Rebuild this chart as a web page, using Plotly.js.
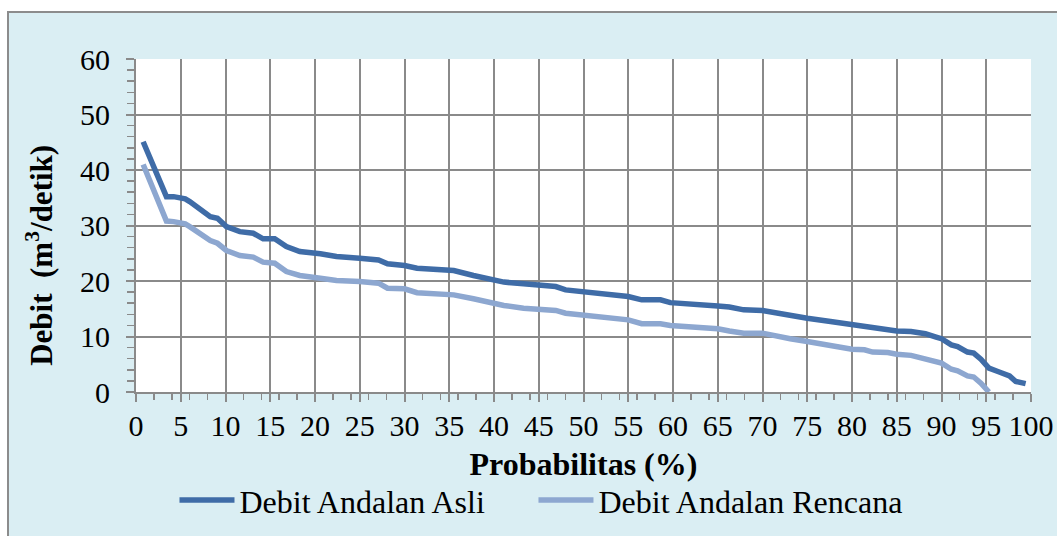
<!DOCTYPE html>
<html>
<head>
<meta charset="utf-8">
<script src="https://cdn.plot.ly/plotly-3.0.1.min.js"></script>
<style>
  html, body { margin: 0; padding: 0; background: #ffffff; }
  #frame {
    position: absolute; left: 7px; top: 11px;
    width: 1050px; height: 525px;
    border-left: 2px solid #8c8c8c; border-top: 2px solid #8c8c8c;
    background: #DAEEF3; overflow: hidden;
  }
  #chart { width: 1048px; height: 523px; }
</style>
</head>
<body>
<div id="frame"><div id="chart"></div></div>
<script>
// Probability of exceedance (%)
const probabilitas = [0.8,3.4,4.2,5.5,6.0,8.3,9.1,10.1,11.6,13.1,14.2,15.5,16.8,18.3,20.6,22.4,25,27.1,28.1,30,31.4,33.6,35.5,37.7,39.6,41.1,43.3,45,46.9,48.0,50,51.3,52.3,55,56.5,58.6,59.7,62.3,65,66.3,67.9,70,71.3,73.1,75,77.6,80,81.4,82.3,84.0,85,86.6,88.2,89.4,90,91.1,91.8,92.9,93.6,94.4,95.3,96.3,97.6,98.3,99.4];
// Debit Andalan Asli (m3/detik)
const debitAsli = [45.1,35.2,35.2,34.8,34.3,31.6,31.3,29.8,28.9,28.6,27.6,27.6,26.2,25.3,24.9,24.4,24.1,23.8,23.1,22.8,22.3,22.0,21.9,21.0,20.3,19.8,19.5,19.3,19.0,18.4,18.1,17.9,17.7,17.2,16.6,16.6,16.1,15.9,15.5,15.3,14.8,14.7,14.3,13.8,13.3,12.7,12.1,11.9,11.5,11.3,11.0,10.9,10.5,9.9,9.6,8.5,8.2,7.2,7.0,5.9,4.3,3.7,2.9,1.9,1.5];
// Debit Andalan Rencana (m3/detik)
const debitRencana = [41.0,30.8,30.7,30.3,29.8,27.3,26.8,25.5,24.6,24.3,23.4,23.2,21.7,21.0,20.5,20.1,19.9,19.6,18.7,18.6,17.9,17.7,17.5,16.8,16.0,15.6,15.1,14.8,14.7,14.2,13.8,13.6,13.5,13.0,12.3,12.3,12.0,11.7,11.4,11.0,10.6,10.6,10.1,9.6,9.1,8.3,7.7,7.6,7.2,7.1,6.8,6.6,6.0,5.5,5.2,4.1,3.8,2.9,2.7,1.6,0.0,null,null,null,null];
const seriesNames = ['Debit Andalan Asli', 'Debit Andalan Rencana'];
const xTickValues = [0,5,10,15,20,25,30,35,40,45,50,55,60,65,70,75,80,85,90,95,100];
const yTickValues = [0,10,20,30,40,50,60];

const FONT = 'Liberation Serif, Times New Roman, serif';
const GRID = '#8a8a8a';

const traces = [
  { x: probabilitas, y: debitAsli, name: seriesNames[0], type: 'scatter', mode: 'lines',
    line: { color: '#3F6CA7', width: 5.5 }, connectgaps: false, legend: 'legend' },
  { x: probabilitas, y: debitRencana, name: seriesNames[1], type: 'scatter', mode: 'lines',
    line: { color: '#8DA7D0', width: 5.5 }, connectgaps: false, legend: 'legend2' }
];

const legendBase = {
  orientation: 'h', xanchor: 'left', y: -0.325, yanchor: 'middle',
  bgcolor: 'rgba(0,0,0,0)', font: { family: FONT, size: 32, color: '#000' },
  itemwidth: 55
};

const layout = {
  width: 1048, height: 523,
  margin: { l: 127, r: 26, t: 46, b: 144, autoexpand: false },
  paper_bgcolor: 'rgba(0,0,0,0)',
  plot_bgcolor: '#ffffff',
  font: { family: FONT, size: 30, color: '#000000' },
  showlegend: true,
  legend: Object.assign({}, legendBase, { x: 0.043 }),
  legend2: Object.assign({}, legendBase, { x: 0.4441 }),
  xaxis: {
    range: [0, 100], tickmode: 'array', tickvals: xTickValues,
    ticktext: xTickValues.map(String),
    showgrid: true, gridcolor: GRID, gridwidth: 2,
    showline: true, linecolor: GRID, linewidth: 2, zeroline: false,
    ticks: 'outside', ticklen: 8, tickwidth: 2, tickcolor: GRID,
    minor: { dtick: 2, tick0: 0, ticks: 'outside', ticklen: 6, tickwidth: 1.5, tickcolor: GRID, showgrid: false },
    tickfont: { family: FONT, size: 30, color: '#000' },
    ticklabelstandoff: -2,
    title: { text: '<b>Probabilitas (%)</b>', font: { family: FONT, size: 32, color: '#000' }, standoff: 12 },
    fixedrange: true
  },
  yaxis: {
    range: [0, 60], tickmode: 'array', tickvals: yTickValues,
    showgrid: true, gridcolor: GRID, gridwidth: 2,
    showline: true, linecolor: GRID, linewidth: 2, zeroline: false,
    ticks: 'outside', ticklen: 8, tickwidth: 2, tickcolor: GRID,
    minor: { dtick: 2, tick0: 0, ticks: 'outside', ticklen: 7, tickwidth: 1.5, tickcolor: GRID, showgrid: false },
    tickfont: { family: FONT, size: 30, color: '#000' },
    ticklabelstandoff: 10,
    fixedrange: true
  },
  annotations: [
    { text: '<b>Debit  (m<sup>3</sup>/detik)</b>', xref: 'paper', yref: 'paper',
      x: -0.108, y: 0.41, xanchor: 'center', yanchor: 'middle', textangle: -90,
      showarrow: false, font: { family: FONT, size: 31, color: '#000' } }
  ]
};

Plotly.newPlot('chart', traces, layout, { displayModeBar: false, staticPlot: true });
</script>
</body>
</html>
